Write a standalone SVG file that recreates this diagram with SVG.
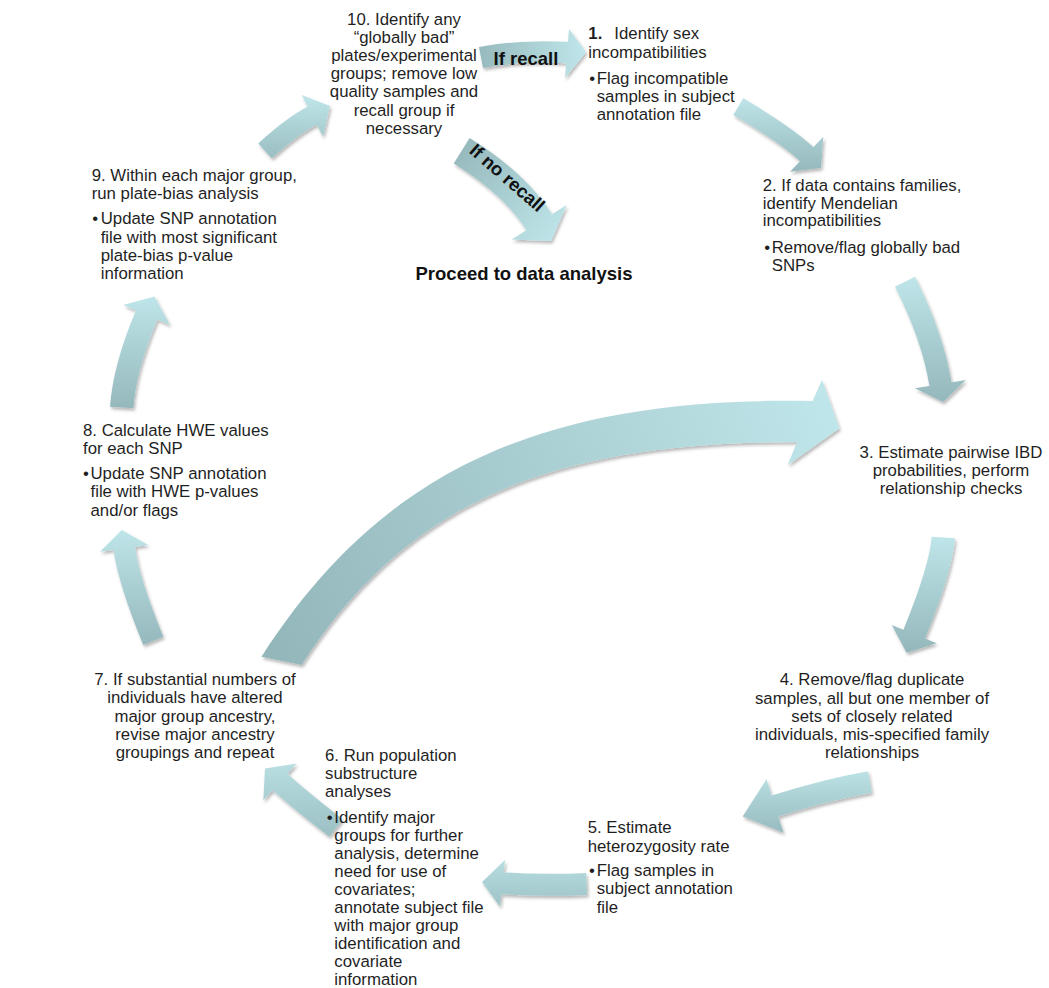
<svg xmlns="http://www.w3.org/2000/svg" xmlns:xlink="http://www.w3.org/1999/xlink" width="1049" height="988" viewBox="0 0 1049 988">
<style>
.t{font-family:"Liberation Sans",Arial,sans-serif;font-size:16.8px;fill:#1f1f1f}
.c{text-anchor:middle}
.lb{font-family:"Liberation Sans",Arial,sans-serif;font-size:18.5px;font-weight:bold;fill:#111}
.band{fill:none;stroke-linecap:butt}
</style>
<defs>
<linearGradient id="base"><stop offset="0" stop-color="#bfe6ea"/><stop offset="1" stop-color="#93b6ba"/></linearGradient>
<linearGradient id="gBig" xlink:href="#base" gradientUnits="userSpaceOnUse" x1="840" y1="420" x2="262" y2="640"/>
<linearGradient id="g10_1" xlink:href="#base" gradientUnits="userSpaceOnUse" x1="585" y1="50" x2="470" y2="60"/>
<linearGradient id="g10_P" xlink:href="#base" gradientUnits="userSpaceOnUse" x1="560" y1="240" x2="455" y2="140"/>
<linearGradient id="g9_10" xlink:href="#base" gradientUnits="userSpaceOnUse" x1="0" y1="95" x2="0" y2="170"/>
<linearGradient id="g1_2" xlink:href="#base" gradientUnits="userSpaceOnUse" x1="0" y1="95" x2="0" y2="175"/>
<linearGradient id="g2_3" xlink:href="#base" gradientUnits="userSpaceOnUse" x1="0" y1="275" x2="0" y2="405"/>
<linearGradient id="g3_4" xlink:href="#base" gradientUnits="userSpaceOnUse" x1="0" y1="535" x2="0" y2="655"/>
<linearGradient id="g4_5" xlink:href="#base" gradientUnits="userSpaceOnUse" x1="0" y1="765" x2="0" y2="840"/>
<linearGradient id="g5_6" xlink:href="#base" gradientUnits="userSpaceOnUse" x1="0" y1="845" x2="0" y2="930"/>
<linearGradient id="g6_7" xlink:href="#base" gradientUnits="userSpaceOnUse" x1="0" y1="745" x2="0" y2="860"/>
<linearGradient id="g7_8" xlink:href="#base" gradientUnits="userSpaceOnUse" x1="0" y1="528" x2="0" y2="650"/>
<linearGradient id="g8_9" xlink:href="#base" gradientUnits="userSpaceOnUse" x1="0" y1="295" x2="0" y2="412"/>
<filter id="sh" x="-20%" y="-20%" width="140%" height="140%">
<feDropShadow dx="1.5" dy="2.5" stdDeviation="1.8" flood-color="#000" flood-opacity="0.28"/>
</filter>
</defs>

<g id="connectors" filter="url(#sh)">
<g id="arrow-7-3">
<path fill="url(#gBig)" d="M261.5,656.7 C380.3,471.9 540,396 812.6,401 L822,380 L839.4,428.3 L787.7,465 L797,442 C558.7,442 409.7,497 301.7,665 Z"/>
</g>
<g id="arrow-10-1">
<path class="band" stroke="url(#g10_1)" stroke-width="21.5" d="M481,57.5 Q520,50 567,52.5 l2,0.1"/>
<polygon fill="url(#g10_1)" points="569,29 586,52 565,78"/>
</g>
<g id="arrow-10-proceed">
<path class="band" stroke="url(#g10_P)" stroke-width="30" d="M461.7,150.7 Q515.4,184.2 539.2,222.2 l1.1,1.7"/>
<polygon fill="url(#g10_P)" points="566.7,205 551,241 511.7,239.4"/>
</g>
<g id="arrow-9-10">
<path class="band" stroke="url(#g9_10)" stroke-width="20" d="M265,150.8 Q292.8,125.6 312.4,115.5 l1.8,-0.9"/>
<polygon fill="url(#g9_10)" points="301.7,95 330,106 323,136.7"/>
</g>
<g id="arrow-1-2">
<path class="band" stroke="url(#g1_2)" stroke-width="19.5" d="M738.3,106.7 Q787.5,135.9 806.7,154.2 l1.4,1.4"/>
<polygon fill="url(#g1_2)" points="823.3,136.7 821,168 790,171.7"/>
</g>
<g id="arrow-2-3">
<path class="band" stroke="url(#g2_3)" stroke-width="22.4" d="M905,281.7 Q932.8,336.7 940.5,384.2 l0.3,2"/>
<polygon fill="url(#g2_3)" points="966,380 943,402 915,388.3"/>
</g>
<g id="arrow-3-4">
<path class="band" stroke="url(#g3_4)" stroke-width="23.4" d="M943.3,537.5 Q941.1,568.3 914.2,634.2 l-0.8,1.9"/>
<polygon fill="url(#g3_4)" points="936.7,643.3 906.6,652.8 891.7,625"/>
</g>
<g id="arrow-4-5">
<path class="band" stroke="url(#g4_5)" stroke-width="22" d="M870,782 Q825,790 775,806 l-1.9,0.6"/>
<polygon fill="url(#g4_5)" points="766.5,779.3 742.6,816.4 783.5,832.7"/>
</g>
<g id="arrow-5-6">
<path class="band" stroke="url(#g5_6)" stroke-width="22" d="M586.7,884 Q545,886 502.5,883.3 l-2,-0.1"/>
<polygon fill="url(#g5_6)" points="505,860 482,882 500,906.7"/>
</g>
<g id="arrow-6-7">
<path class="band" stroke="url(#g6_7)" stroke-width="22" d="M336,828 Q300,800 280,782 l-1.5,-1.3"/>
<polygon fill="url(#g6_7)" points="296.7,763.4 265,768.6 263.3,800.6"/>
</g>
<g id="arrow-7-8">
<path class="band" stroke="url(#g7_8)" stroke-width="21.7" d="M153.3,640.8 Q128.9,581.7 124.2,548.3 l-0.3,-2"/>
<polygon fill="url(#g7_8)" points="100,551.7 121.7,530 148.3,545"/>
</g>
<g id="arrow-8-9">
<path class="band" stroke="url(#g8_9)" stroke-width="23.4" d="M121.7,407.5 Q124.5,367.3 146.7,315 l0.8,-1.8"/>
<polygon fill="url(#g8_9)" points="123.3,305 154.5,296.6 170,325"/>
</g>
</g>

<g id="labels">
<text class="lb" x="493.5" y="65">If recall</text>
<text class="lb c" x="507" y="184" transform="rotate(41 507 178)">If no recall</text>
</g>

<g id="node-10">
<text class="t c"><tspan x="404" y="24.5">10. Identify any</tspan><tspan x="404" y="42.7">“globally bad”</tspan><tspan x="404" y="60.9">plates/experimental</tspan><tspan x="404" y="79.1">groups; remove low</tspan><tspan x="404" y="97.3">quality samples and</tspan><tspan x="404" y="115.5">recall group if</tspan><tspan x="404" y="133.7">necessary</tspan></text>
</g>

<g id="node-1">
<text class="t"><tspan x="588.3" y="39.3" font-weight="bold">1.</tspan><tspan x="614.3" y="39.3">Identify sex</tspan><tspan x="588.3" y="57.7">incompatibilities</tspan></text>
<text class="t"><tspan x="589.3" y="83.7">•</tspan><tspan x="596.7" y="83.7">Flag incompatible</tspan><tspan x="596.7" y="101.7">samples in subject</tspan><tspan x="596.7" y="119.7">annotation file</tspan></text>
</g>

<g id="node-proceed">
<text class="lb c" x="524" y="280">Proceed to data analysis</text>
</g>

<g id="node-2">
<text class="t"><tspan x="762.7" y="191">2. If data contains families,</tspan><tspan x="762.7" y="208.8">identify Mendelian</tspan><tspan x="762.7" y="226.4">incompatibilities</tspan></text>
<text class="t"><tspan x="764.3" y="252.7">•</tspan><tspan x="771.7" y="252.7">Remove/flag globally bad</tspan><tspan x="771.7" y="271">SNPs</tspan></text>
</g>

<g id="node-3">
<text class="t c"><tspan x="951" y="457.7">3. Estimate pairwise IBD</tspan><tspan x="951" y="475.8">probabilities, perform</tspan><tspan x="951" y="493.6">relationship checks</tspan></text>
</g>

<g id="node-4">
<text class="t c"><tspan x="872" y="685.3">4. Remove/flag duplicate</tspan><tspan x="872" y="703.6">samples, all but one member of</tspan><tspan x="872" y="721.8">sets of closely related</tspan><tspan x="872" y="740">individuals, mis-specified family</tspan><tspan x="872" y="758.2">relationships</tspan></text>
</g>

<g id="node-5">
<text class="t"><tspan x="587.7" y="833.3">5. Estimate</tspan><tspan x="587.7" y="851.7">heterozygosity rate</tspan></text>
<text class="t"><tspan x="589" y="876">•</tspan><tspan x="596.7" y="876">Flag samples in</tspan><tspan x="596.7" y="894.3">subject annotation</tspan><tspan x="596.7" y="912.7">file</tspan></text>
</g>

<g id="node-6">
<text class="t"><tspan x="325" y="761">6. Run population</tspan><tspan x="325" y="779">substructure</tspan><tspan x="325" y="797">analyses</tspan></text>
<text class="t"><tspan x="326.7" y="822.7">•</tspan><tspan x="334.3" y="822.7">Identify major</tspan><tspan x="334.3" y="840.7">groups for further</tspan><tspan x="334.3" y="858.7">analysis, determine</tspan><tspan x="334.3" y="876.7">need for use of</tspan><tspan x="334.3" y="894.7">covariates;</tspan><tspan x="334.3" y="912.7">annotate subject file</tspan><tspan x="334.3" y="930.7">with major group</tspan><tspan x="334.3" y="948.7">identification and</tspan><tspan x="334.3" y="966.7">covariate</tspan><tspan x="334.3" y="984.7">information</tspan></text>
</g>

<g id="node-7">
<text class="t c"><tspan x="195" y="685.3">7. If substantial numbers of</tspan><tspan x="195" y="703.3">individuals have altered</tspan><tspan x="195" y="721.5">major group ancestry,</tspan><tspan x="195" y="739.6">revise major ancestry</tspan><tspan x="195" y="757.7">groupings and repeat</tspan></text>
</g>

<g id="node-8">
<text class="t"><tspan x="83" y="436">8. Calculate HWE values</tspan><tspan x="83" y="454">for each SNP</tspan></text>
<text class="t"><tspan x="83" y="478.7">•</tspan><tspan x="90.5" y="478.7">Update SNP annotation</tspan><tspan x="90.5" y="497.3">file with HWE p-values</tspan><tspan x="90.5" y="515.8">and/or flags</tspan></text>
</g>

<g id="node-9">
<text class="t"><tspan x="91.7" y="181">9. Within each major group,</tspan><tspan x="91.7" y="199.3">run plate-bias analysis</tspan></text>
<text class="t"><tspan x="92.3" y="224.3">•</tspan><tspan x="100.7" y="224.3">Update SNP annotation</tspan><tspan x="100.7" y="242.6">file with most significant</tspan><tspan x="100.7" y="260.9">plate-bias p-value</tspan><tspan x="100.7" y="279">information</tspan></text>
</g>
</svg>
